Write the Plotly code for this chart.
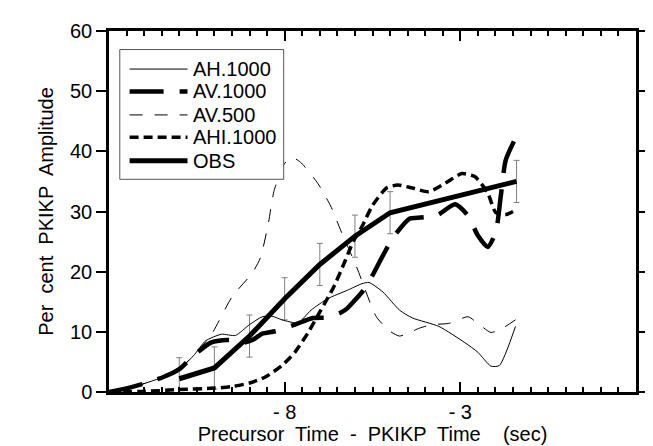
import plotly.graph_objects as go

# ---------------- data ----------------
obs_x = [-11, -10, -9, -8, -7, -6, -5, -1.4]
obs_y = [2.2, 4.0, 9.3, 15.5, 21.2, 25.9, 29.8, 35.0]
obs_err = [3.5, 3.5, 3.5, 3.5, 3.5, 3.5, 3.5, 3.5]

ah_x = [-13, -12.5, -12, -11.45, -11, -10.6, -10.25, -9.8, -9.4, -9.0, -8.64, -8.36, -8.08,
        -7.62, -7.25, -6.78, -6.22, -5.8, -5.6, -5.2, -4.73, -4.36, -3.61, -2.87, -2.5,
        -2.13, -1.89, -1.43]
ah_y = [0, 0.6, 1.4, 2.5, 3.8, 6.0, 8.5, 9.6, 9.4, 11.2, 12.5, 12.6, 12.0,
        11.5, 13.6, 15.5, 16.9, 18.0, 18.2, 16.6, 13.6, 12.3, 10.9, 8.2, 6.6,
        4.3, 4.4, 10.9]

av1000_x = [-13, -12.5, -12, -11.45, -11, -10.6, -10.1, -9.76, -9.5, -9.25, -8.9, -8.64,
            -8.27, -7.71, -7.2, -6.78, -6.4, -6.22, -5.76, -5.48, -5.22, -4.92, -4.45,
            -4.13, -3.8, -3.62, -3.15, -2.78, -2.5, -2.22, -1.99, -1.85, -1.71, -1.43]
av1000_y = [0, 0.6, 1.4, 2.5, 3.8, 6.0, 8.2, 8.6, 8.6, 8.1, 8.7, 9.7,
            10.1, 11.2, 12.3, 12.4, 13.2, 13.9, 16.9, 19.6, 22.5, 25.6, 28.8,
            29.0, 29.2, 29.5, 31.2, 29.3, 26.0, 24.1, 26.6, 32.5, 38.5, 42.2]

av500_x = [-13, -12.5, -12, -11.45, -11, -10.6, -10.1, -9.5, -8.92, -8.69, -8.46, -8.3,
           -8.0, -7.8, -7.55, -7.06, -6.69, -6.4, -5.94, -5.39, -5.0, -4.73, -4.17,
           -3.8, -3.33, -2.78, -2.5, -2.13, -1.8, -1.43]
av500_y = [0, 0.6, 1.4, 2.5, 3.8, 6.0, 9.4, 15.8, 19.8, 22.3, 28.2, 33.5,
           38.0, 39.0, 38.2, 34.7, 30.9, 26.8, 20.6, 12.5, 10.1, 9.3, 10.6,
           11.2, 11.4, 12.5, 11.4, 9.9, 10.6, 12.0]

ahi_x = [-13, -12, -11, -10, -9.5, -9.0, -8.55, -8.08, -7.71, -7.34, -6.97, -6.6,
         -6.3, -6.05, -5.8, -5.5, -5.1, -4.78, -4.36, -3.9, -3.43, -2.96, -2.59,
         -2.22, -1.99, -1.7, -1.5]
ahi_y = [0, 0.1, 0.4, 0.65, 0.9, 1.5, 2.5, 4.4, 6.6, 9.8, 13.6, 17.5,
         21.5, 25.0, 27.5, 31.0, 33.9, 34.4, 33.9, 33.3, 34.7, 36.3, 35.8,
         33.1, 29.8, 29.5, 30.0]

series_names = ["AH.1000", "AV.1000", "AV.500", "AHI.1000", "OBS"]
x_tick_vals = [-8, -3]
x_tick_text = ["- 8", "- 3"]
y_tick_vals = [0, 10, 20, 30, 40, 50, 60]

# ---------------- styles ----------------
FONT = "Liberation Sans, Arial, Helvetica, sans-serif"
styles = {
    "AH.1000": dict(color="black", width=1, dash="solid"),
    "AV.1000": dict(color="black", width=4.5, dash="34px,16px"),
    "AV.500": dict(color="black", width=1, dash="13px,12px"),
    "AHI.1000": dict(color="black", width=3.5, dash="9px,5px"),
    "OBS": dict(color="black", width=5, dash="solid"),
}

W, H = 653, 446
L, R, T, B = 101, 15, 14, 62
PW, PH = W - L - R, H - T - B


def px2paper(px, py):
    return (px - L) / PW, (H - B - py) / PH


fig = go.Figure()

# error bars of the observations
fig.add_trace(go.Scatter(
    x=obs_x, y=obs_y, mode="lines", line=dict(color="rgba(0,0,0,0)", width=0),
    error_y=dict(type="data", array=obs_err, color="#808080", thickness=1, width=3),
    showlegend=False, hoverinfo="skip"))

curves = {
    "AH.1000": (ah_x, ah_y),
    "AV.500": (av500_x, av500_y),
    "AV.1000": (av1000_x, av1000_y),
    "AHI.1000": (ahi_x, ahi_y),
}
for name, (xs, ys) in curves.items():
    fig.add_trace(go.Scatter(x=xs, y=ys, mode="lines", name=name,
                             line=dict(**styles[name], shape="spline", smoothing=0.6),
                             showlegend=False))

fig.add_trace(go.Scatter(x=obs_x, y=obs_y, mode="lines", name="OBS",
                         line=dict(**styles["OBS"]), showlegend=False))

# ---------------- custom legend ----------------
shapes = []
annotations = []
x0, y0 = px2paper(112, 33)
x1, y1 = px2paper(279, 166)
shapes.append(dict(type="rect", xref="paper", yref="paper", x0=x0, y0=y1, x1=x1, y1=y0,
                   line=dict(color="#555", width=1), fillcolor="white", layer="above"))
row_y = [53, 76, 100, 123, 147]
for name, ry in zip(series_names, row_y):
    lx0, ly = px2paper(122, ry)
    lx1, _ = px2paper(181, ry)
    st = styles[name]
    shapes.append(dict(type="line", xref="paper", yref="paper", x0=lx0, x1=lx1, y0=ly, y1=ly,
                       line=dict(color="black", width=st["width"], dash=st["dash"]), layer="above"))
    tx, _ = px2paper(185, ry)
    annotations.append(dict(xref="paper", yref="paper", x=tx, y=ly, text=name, showarrow=False,
                            xanchor="left", yanchor="middle",
                            font=dict(family=FONT, size=20, color="black")))

fig.update_layout(
    width=W, height=H,
    margin=dict(l=L, r=R, t=T, b=B),
    paper_bgcolor="white", plot_bgcolor="white",
    font=dict(family=FONT, size=20, color="black"),
    shapes=shapes, annotations=annotations,
    showlegend=False,
)
fig.update_xaxes(
    range=[-13, 2], tickmode="array", tickvals=x_tick_vals, ticktext=x_tick_text,
    ticks="inside", ticklen=10, tickwidth=1.5, tickcolor="black",
    showline=True, linewidth=2.5, linecolor="black", mirror="ticks",
    showgrid=False, zeroline=False,
    minor=dict(ticks="inside", ticklen=5, tickwidth=1.5, tickcolor="black",
               tickmode="linear", tick0=-13, dtick=0.5, showgrid=False),
    tickfont=dict(size=20),
    title=dict(text="Precursor  Time  -  PKIKP  Time    (sec)", font=dict(size=20), standoff=4),
)
fig.update_yaxes(
    range=[0, 60], tickmode="array", tickvals=y_tick_vals,
    ticks="outside", ticklen=10, tickwidth=2, tickcolor="black",
    showline=True, linewidth=2.5, linecolor="black", mirror="ticks",
    showgrid=False, zeroline=False,
    tickfont=dict(size=20),
    title=dict(text="Per  cent  PKIKP  Amplitude", font=dict(size=20), standoff=12),
)

fig.write_html("out.html")
